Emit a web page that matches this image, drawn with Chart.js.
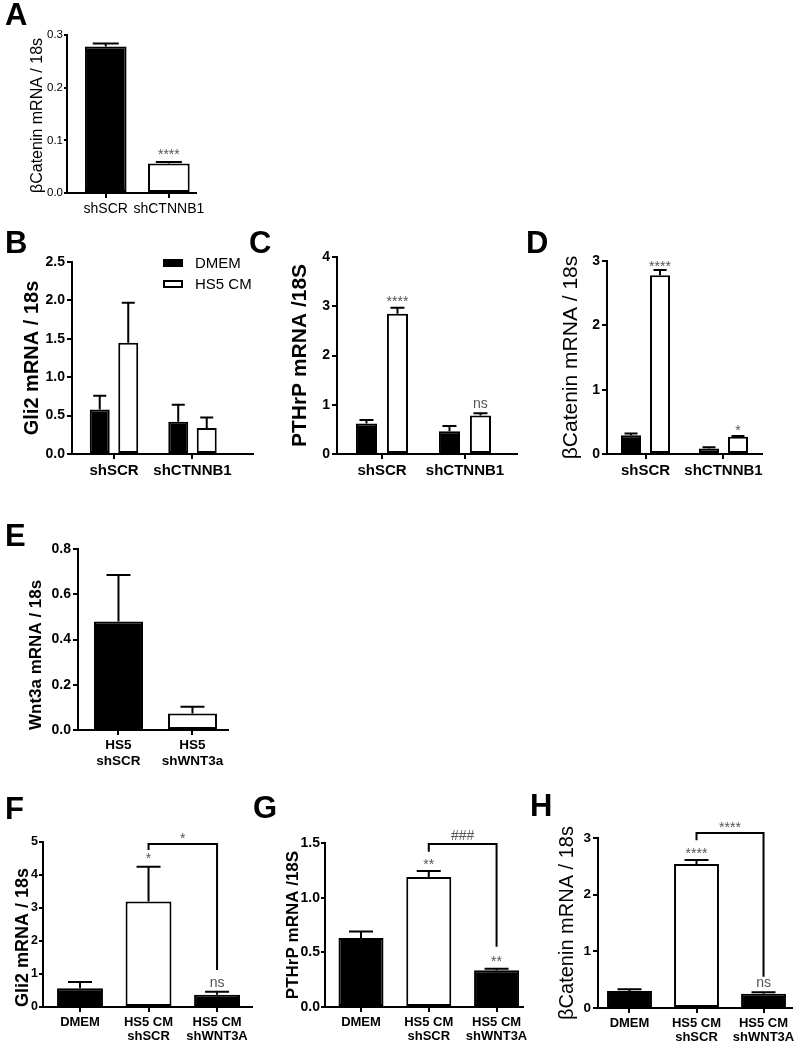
<!DOCTYPE html>
<html><head><meta charset="utf-8">
<script src="https://cdn.jsdelivr.net/npm/chart.js@4.4.1/dist/chart.umd.min.js"></script>
<style>
html,body{margin:0;padding:0;background:#fff;}
#fig{position:relative;width:800px;height:1050px;overflow:hidden;background:#fff;}
.panel{position:absolute;}
.letter{position:absolute;font:bold 31px "Liberation Sans",Arial,sans-serif;line-height:1;color:#000;}
</style></head><body>
<div id="fig"></div>
<script>
// ---------------- DATA ----------------
// Panel A
const A_groups = ['shSCR', 'shCTNNB1'];
const A_mean = [0.278, 0.056];
const A_sem = [0.006, 0.003];
// Panel B
const B_groups = ['shSCR', 'shCTNNB1'];
const B_dmem = [0.58, 0.42];
const B_dmem_sem = [0.18, 0.22];
const B_hs5 = [1.45, 0.34];
const B_hs5_sem = [0.52, 0.135];
// Panel C
const C_groups = ['shSCR', 'shCTNNB1'];
const C_dmem = [0.62, 0.46];
const C_dmem_sem = [0.07, 0.11];
const C_hs5 = [2.85, 0.78];
const C_hs5_sem = [0.12, 0.045];
// Panel D
const D_groups = ['shSCR', 'shCTNNB1'];
const D_dmem = [0.29, 0.085];
const D_dmem_sem = [0.03, 0.02];
const D_hs5 = [2.78, 0.27];
const D_hs5_sem = [0.08, 0.01];
// Panel E
const E_groups = [['HS5', 'shSCR'], ['HS5', 'shWNT3a']];
const E_mean = [0.48, 0.073];
const E_sem = [0.205, 0.03];
// Panel F
const F_groups = ['DMEM', ['HS5 CM', 'shSCR'], ['HS5 CM', 'shWNT3A']];
const F_mean = [0.57, 3.2, 0.37];
const F_sem = [0.19, 1.05, 0.09];
// Panel G
const G_groups = ['DMEM', ['HS5 CM', 'shSCR'], ['HS5 CM', 'shWNT3A']];
const G_mean = [0.63, 1.19, 0.335];
const G_sem = [0.06, 0.055, 0.015];
// Panel H
const H_groups = ['DMEM', ['HS5 CM', 'shSCR'], ['HS5 CM', 'shWNT3A']];
const H_mean = [0.30, 2.54, 0.25];
const H_sem = [0.03, 0.07, 0.03];
// Series names
const SERIES = ['DMEM', 'HS5 CM'];
// Significance marks (y = text baseline value on the axis)
const A_marks = [{ds: 0, i: 1, y: 0.064, text: '****'}];
const C_marks = [{ds: 1, i: 0, y: 3.0, text: '****'}, {ds: 1, i: 1, y: 0.93, text: 'ns'}];
const D_marks = [{ds: 1, i: 0, y: 2.85, text: '****'}, {ds: 1, i: 1, y: 0.30, text: '*'}];
const F_marks = [{ds: 0, i: 1, y: 4.36, text: '*'}, {ds: 0, i: 2, y: 0.61, text: 'ns'}];
const G_marks = [{ds: 0, i: 1, y: 1.26, text: '**'}, {ds: 0, i: 2, y: 0.375, text: '**'}];
const H_marks = [{ds: 0, i: 1, y: 2.65, text: '****'}, {ds: 0, i: 2, y: 0.37, text: 'ns'}];
const F_bracket = {from: 1, to: 2, top: 4.94, leftEnd: 4.76, rightEnd: 1.12, text: '*', textY: 4.96};
const G_bracket = {from: 1, to: 2, top: 1.49, leftEnd: 1.42, rightEnd: 0.55, text: '###', textY: 1.525};
const H_bracket = {from: 1, to: 2, top: 3.09, leftEnd: 2.96, rightEnd: 0.55, text: '****', textY: 3.10};

// ---------------- RENDER ----------------
const FONT = '"Liberation Sans", Arial, Helvetica, sans-serif';
Chart.defaults.font.family = FONT;
Chart.defaults.color = '#000';
const BLACK = '#000000', WHITE = '#ffffff';
const fig = document.getElementById('fig');

function makeDecor(cfg) {
  return {
    id: 'decor',
    afterDatasetsDraw(chart) {
      const ctx = chart.ctx, ys = chart.scales.y, area = chart.chartArea;
      ctx.save();
      ctx.strokeStyle = '#000'; ctx.lineWidth = 2; ctx.lineCap = 'butt';
      chart.data.datasets.forEach((ds, di) => {
        chart.getDatasetMeta(di).data.forEach((bar, i) => {
          const yTop = ys.getPixelForValue(ds.data[i].y + ds.errors[i]);
          ctx.beginPath();
          ctx.moveTo(bar.x, bar.y); ctx.lineTo(bar.x, yTop);
          ctx.moveTo(bar.x - cfg.cap / 2, yTop); ctx.lineTo(bar.x + cfg.cap / 2, yTop);
          ctx.stroke();
        });
      });
      ctx.fillStyle = '#555';
      ctx.font = '14px ' + FONT;
      ctx.textAlign = 'center'; ctx.textBaseline = 'alphabetic';
      (cfg.marks || []).forEach(m => {
        const bar = chart.getDatasetMeta(m.ds).data[m.i];
        ctx.fillText(m.text, bar.x, ys.getPixelForValue(m.y));
      });
      if (cfg.bracket) {
        const b = cfg.bracket, meta = chart.getDatasetMeta(0);
        const xa = meta.data[b.from].x, xb = meta.data[b.to].x;
        const yt = ys.getPixelForValue(b.top);
        ctx.beginPath();
        ctx.moveTo(xa, ys.getPixelForValue(b.leftEnd)); ctx.lineTo(xa, yt);
        ctx.lineTo(xb, yt); ctx.lineTo(xb, ys.getPixelForValue(b.rightEnd));
        ctx.stroke();
        ctx.fillText(b.text, (xa + xb) / 2, ys.getPixelForValue(b.textY));
      }
      if (cfg.legend) {
        const L = cfg.legend;
        chart.data.datasets.forEach((ds, di) => {
          const x = area.left + L.dx, y = area.top + L.dy + di * L.gap;
          ctx.fillStyle = ds.backgroundColor; ctx.fillRect(x, y, L.w, L.h);
          ctx.lineWidth = 2; ctx.strokeStyle = '#000'; ctx.strokeRect(x + 1, y + 1, L.w - 2, L.h - 2);
          ctx.fillStyle = '#000'; ctx.font = L.font; ctx.textAlign = 'left'; ctx.textBaseline = 'middle';
          ctx.fillText(ds.label, x + L.textDx, y + L.h / 2 + 0.5);
        });
      }
      ctx.restore();
    }
  };
}

function makePanel(cfg) {
  const [bl, bt, bw, bh] = cfg.box;
  const [px0, py0, px1, py1] = cfg.plot;
  const wrap = document.createElement('div');
  wrap.className = 'panel';
  Object.assign(wrap.style, {left: bl + 'px', top: bt + 'px', width: bw + 'px', height: bh + 'px'});
  const canvas = document.createElement('canvas');
  canvas.width = bw; canvas.height = bh;
  canvas.style.width = bw + 'px'; canvas.style.height = bh + 'px';
  wrap.appendChild(canvas); fig.appendChild(wrap);
  const letter = document.createElement('div');
  letter.className = 'letter'; letter.textContent = cfg.letter;
  letter.style.left = cfg.letterPos[0] + 'px'; letter.style.top = cfg.letterPos[1] + 'px';
  fig.appendChild(letter);

  const datasets = cfg.series.map(s => ({
    label: s.label,
    data: s.values.map((v, i) => ({x: i, y: v})),
    errors: s.errors,
    backgroundColor: s.fill,
    borderColor: BLACK,
    borderWidth: 2,
    borderSkipped: false,
    categoryPercentage: cfg.catPct,
    barPercentage: cfg.barPct
  }));
  const titleLH = cfg.title.size * 1.2;
  const tl = cfg.tickLen || 5, tp = cfg.tickPad == null ? 2 : cfg.tickPad;
  new Chart(canvas, {
    type: 'bar',
    data: {datasets},
    options: {
      responsive: false, maintainAspectRatio: false, animation: false,
      layout: {padding: {left: 0, top: py0 - bt, right: bl + bw - px1, bottom: 0}},
      plugins: {legend: {display: false}, tooltip: {enabled: false}},
      scales: {
        x: {
          type: 'linear', min: cfg.xRange[0], max: cfg.xRange[1], offset: false,
          afterBuildTicks: s => { s.ticks = cfg.labels.map((_, i) => ({value: i})); },
          afterFit: s => { s.height = bt + bh - py1; },
          grid: {display: true, drawOnChartArea: false, drawTicks: true, tickLength: 5, color: '#000', lineWidth: 2, offset: false},
          border: {display: true, color: '#000', width: 2},
          ticks: {
            callback: (v) => cfg.labels[Math.round(v)],
            font: {size: cfg.xFont.size, weight: cfg.xFont.weight, lineHeight: cfg.xFont.lh || 1.15},
            color: '#000', padding: cfg.xFont.pad || 3, maxRotation: 0, minRotation: 0, autoSkip: false
          }
        },
        y: {
          min: 0, max: cfg.yMax,
          afterFit: s => { s.width = px0 - bl; },
          grid: {display: true, drawOnChartArea: false, drawTicks: true, tickLength: tl, color: '#000', lineWidth: 2},
          border: {display: true, color: '#000', width: 2},
          ticks: {
            stepSize: cfg.yStep,
            callback: v => Number(v).toFixed(cfg.yDec),
            font: {size: cfg.tickFont.size, weight: cfg.tickFont.weight},
            color: '#000', padding: tp
          },
          title: {
            display: true, text: cfg.title.text, color: '#000', align: cfg.title.align || 'center',
            font: {size: cfg.title.size, weight: cfg.title.weight, lineHeight: 1.2},
            padding: {top: cfg.title.cx - bl - titleLH / 2, bottom: 0}
          }
        }
      }
    },
    plugins: [makeDecor(cfg)]
  });
}

const BW = BLACK, WH = WHITE;

makePanel({
  letter: 'A', letterPos: [5, -1],
  box: [20, 20, 190, 200], plot: [67, 35, 197, 193], xRange: [-0.614, 1.433],
  labels: A_groups, yMax: 0.3, yStep: 0.1, yDec: 1, catPct: 1, barPct: 0.66, cap: 26,
  tickLen: 3, tickPad: 1,
  tickFont: {size: 11.5, weight: 'normal'}, xFont: {size: 14, weight: 'normal'},
  title: {text: 'βCatenin mRNA / 18s', size: 16, weight: 'normal', cx: 38, align: 'start'},
  series: [{label: '', values: A_mean, errors: A_sem, fill: [BW, WH]}],
  marks: A_marks
});
makePanel({
  letter: 'B', letterPos: [5, 227],
  box: [10, 240, 255, 240], plot: [72, 262, 253, 454], xRange: [-0.535, 1.771],
  labels: B_groups, yMax: 2.5, yStep: 0.5, yDec: 1, catPct: 0.726, barPct: 0.70, cap: 13,
  tickFont: {size: 14, weight: 'bold'}, xFont: {size: 15, weight: 'bold'},
  title: {text: 'Gli2 mRNA / 18s', size: 20, weight: 'bold', cx: 32},
  series: [
    {label: SERIES[0], values: B_dmem, errors: B_dmem_sem, fill: BW},
    {label: SERIES[1], values: B_hs5, errors: B_hs5_sem, fill: WH}
  ],
  legend: {dx: 91, dy: -3, gap: 21, w: 20, h: 8, textDx: 32, font: '15px ' + FONT}
});
makePanel({
  letter: 'C', letterPos: [249, 227],
  box: [275, 240, 255, 240], plot: [337, 257, 517, 454], xRange: [-0.542, 1.627],
  labels: C_groups, yMax: 4, yStep: 1, yDec: 0, catPct: 0.747, barPct: 0.68, cap: 14,
  tickFont: {size: 14, weight: 'bold'}, xFont: {size: 15, weight: 'bold'},
  title: {text: 'PTHrP mRNA /18S', size: 21, weight: 'bold', cx: 300},
  series: [
    {label: SERIES[0], values: C_dmem, errors: C_dmem_sem, fill: BW},
    {label: SERIES[1], values: C_hs5, errors: C_hs5_sem, fill: WH}
  ],
  marks: C_marks
});
makePanel({
  letter: 'D', letterPos: [526, 227],
  box: [545, 240, 235, 240], plot: [607, 261, 762, 454], xRange: [-0.494, 1.494],
  labels: D_groups, yMax: 3, yStep: 1, yDec: 0, catPct: 0.744, barPct: 0.69, cap: 13,
  tickFont: {size: 14, weight: 'bold'}, xFont: {size: 15, weight: 'bold'},
  title: {text: 'βCatenin mRNA / 18s', size: 21, weight: 'normal', cx: 571},
  series: [
    {label: SERIES[0], values: D_dmem, errors: D_dmem_sem, fill: BW},
    {label: SERIES[1], values: D_hs5, errors: D_hs5_sem, fill: WH}
  ],
  marks: D_marks
});
makePanel({
  letter: 'E', letterPos: [5, 520],
  box: [10, 530, 235, 250], plot: [78, 549, 228, 730], xRange: [-0.547, 1.48],
  labels: E_groups, yMax: 0.8, yStep: 0.2, yDec: 1, catPct: 1, barPct: 0.662, cap: 24,
  tickFont: {size: 14, weight: 'bold'}, xFont: {size: 13.5, weight: 'bold', lh: 1.15},
  title: {text: 'Wnt3a mRNA / 18s', size: 17, weight: 'bold', cx: 36, align: 'start'},
  series: [{label: '', values: E_mean, errors: E_sem, fill: [BW, WH]}]
});
makePanel({
  letter: 'F', letterPos: [5, 793],
  box: [5, 820, 260, 225], plot: [43, 842, 252, 1007], xRange: [-0.54, 2.51],
  labels: F_groups, yMax: 5, yStep: 1, yDec: 0, catPct: 1, barPct: 0.67, cap: 24,
  tickLen: 4, tickPad: 1,
  tickFont: {size: 12.5, weight: 'bold'}, xFont: {size: 13, weight: 'bold', lh: 1.05, pad: 4},
  title: {text: 'Gli2 mRNA / 18s', size: 18, weight: 'bold', cx: 23, align: 'start'},
  series: [{label: '', values: F_mean, errors: F_sem, fill: [BW, WH, BW]}],
  marks: F_marks, bracket: F_bracket
});
makePanel({
  letter: 'G', letterPos: [253, 792],
  box: [270, 820, 265, 225], plot: [325, 843, 523, 1007], xRange: [-0.531, 2.39],
  labels: G_groups, yMax: 1.5, yStep: 0.5, yDec: 1, catPct: 1, barPct: 0.664, cap: 24,
  tickLen: 4, tickPad: 1,
  tickFont: {size: 14, weight: 'bold'}, xFont: {size: 13, weight: 'bold', lh: 1.05, pad: 4},
  title: {text: 'PTHrP mRNA /18S', size: 17, weight: 'bold', cx: 293},
  series: [{label: '', values: G_mean, errors: G_sem, fill: [BW, WH, BW]}],
  marks: G_marks, bracket: G_bracket
});
makePanel({
  letter: 'H', letterPos: [530, 790],
  box: [540, 815, 260, 230], plot: [598, 838, 792, 1008], xRange: [-0.47, 2.425],
  labels: H_groups, yMax: 3, yStep: 1, yDec: 0, catPct: 1, barPct: 0.67, cap: 24,
  tickFont: {size: 13.5, weight: 'bold'}, xFont: {size: 13, weight: 'bold', lh: 1.05, pad: 4},
  title: {text: 'βCatenin mRNA / 18s', size: 20, weight: 'normal', cx: 567},
  series: [{label: '', values: H_mean, errors: H_sem, fill: [BW, WH, BW]}],
  marks: H_marks, bracket: H_bracket
});
</script>
</body></html>
